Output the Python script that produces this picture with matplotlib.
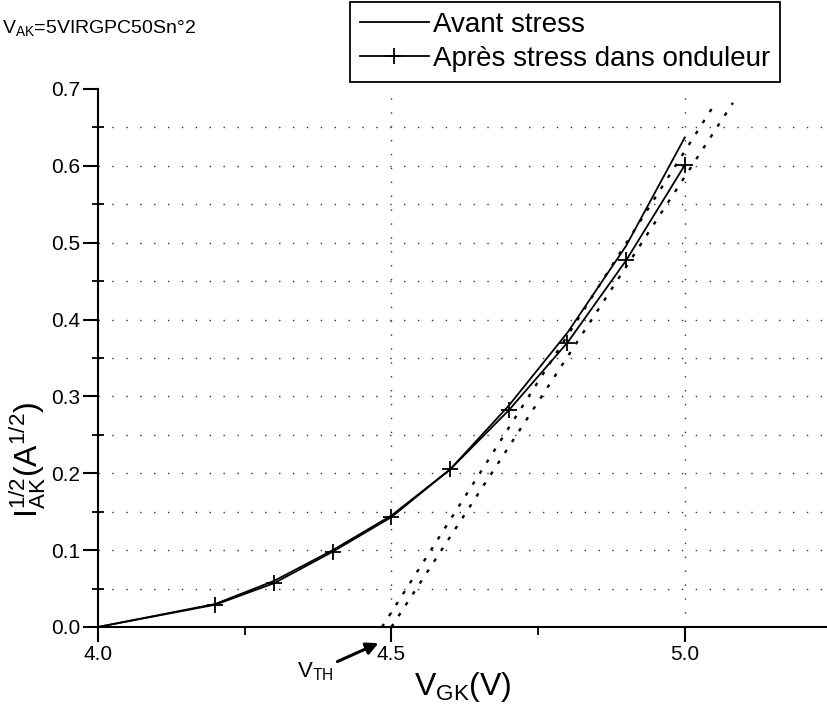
import matplotlib
matplotlib.use("Agg")
import matplotlib.pyplot as plt
from matplotlib.ticker import MultipleLocator, FixedLocator

plt.rcParams['font.family'] = ['Liberation Sans Narrow', 'Liberation Sans', 'DejaVu Sans']
plt.rcParams['mathtext.default'] = 'regular'

# gate voltage (V)
vgk = [4.0, 4.2, 4.3, 4.4, 4.5, 4.6, 4.7, 4.8, 4.9, 5.0]
# sqrt(I_AK) before stress
avant = [0.0, 0.030, 0.060, 0.100, 0.145, 0.205, 0.288, 0.383, 0.496, 0.637]
# sqrt(I_AK) after stress in inverter
apres = [0.0, 0.029, 0.057, 0.098, 0.143, 0.205, 0.282, 0.370, 0.477, 0.601]

# dotted extrapolation lines used to read V_TH
tan_avant_x = [4.484, 5.054]
tan_avant_y = [0.0, 0.684]
tan_apres_x = [4.500, 5.082]
tan_apres_y = [0.0, 0.682]

fig = plt.figure(figsize=(8.28, 7.21), dpi=100)
ax = fig.add_axes([98 / 828, 1 - 627 / 721, 730 / 828, (627 - 89) / 721])
ax.set_xlim(4.0, 5.244)
ax.set_ylim(0.0, 0.7)

# dotted grid
for yv in [i * 0.05 for i in range(1, 14)]:
    ax.axhline(yv, color='#333333', lw=1.0, ls=(0, (1, 9)), zorder=1)
for xv in [4.5, 5.0]:
    ax.axvline(xv, color='#333333', lw=1.0, ls=(0, (1, 9)), zorder=1)

ax.plot(tan_avant_x, tan_avant_y, color='black', lw=1.7, ls=(0, (1.5, 4)), zorder=2)
ax.plot(tan_apres_x, tan_apres_y, color='black', lw=1.7, ls=(0, (1.5, 4)), zorder=2)

ax.plot(vgk, avant, color='black', lw=1.3, label='Avant stress', zorder=3)
ax.plot(vgk, apres, color='black', lw=1.3, marker='+', ms=11, mew=1.3,
        label='Après stress dans onduleur', zorder=3)

for s in ['top', 'right']:
    ax.spines[s].set_visible(False)
for s in ['left', 'bottom']:
    ax.spines[s].set_linewidth(1.5)

ax.xaxis.set_major_locator(FixedLocator([4.0, 4.5, 5.0]))
ax.xaxis.set_minor_locator(FixedLocator([4.25, 4.75]))
ax.yaxis.set_major_locator(MultipleLocator(0.1))
ax.yaxis.set_minor_locator(MultipleLocator(0.05))
ax.xaxis.set_major_formatter(plt.FuncFormatter(lambda v, p: f"{v:.1f}"))
ax.yaxis.set_major_formatter(plt.FuncFormatter(lambda v, p: f"{v:.1f}"))
ax.tick_params(axis='both', which='major', direction='out', length=11, width=1.5,
               labelsize=15, pad=2)
ax.tick_params(axis='x', which='minor', direction='out', length=6, width=1.3)
ax.tick_params(axis='y', which='minor', direction='inout', length=8, width=1.3)

ax.set_xlabel(r'V$_{GK}$(V)', fontsize=23, labelpad=4)
ax.set_ylabel(r'I$_{AK}^{1/2}$(A$^{1/2}$)', fontsize=23)
ax.yaxis.set_label_coords(-0.068, 0.31)

ax.annotate(r'V$_{TH}$', xy=(4.478, -0.021), xytext=(4.37, -0.058),
            xycoords='data', textcoords='data', fontsize=16,
            ha='center', va='center', annotation_clip=False,
            arrowprops=dict(arrowstyle='-|>', color='black', lw=2.2,
                            mutation_scale=18, shrinkA=1, shrinkB=0))

fig.text(2 / 828, 1 - 28 / 721, r'V$_{AK}$=5VIRGPC50Sn°2', fontsize=14,
         ha='left', va='center')

leg = ax.legend(loc='upper left', bbox_to_anchor=(350 / 828, 1 - 2 / 721),
                bbox_transform=fig.transFigure, fontsize=20, frameon=True,
                fancybox=False, edgecolor='black', framealpha=1,
                handlelength=2.5, handletextpad=0.15, borderpad=0.35,
                labelspacing=0.3, borderaxespad=0)
leg.get_frame().set_linewidth(1.3)

fig.savefig('out.png', dpi=100)
